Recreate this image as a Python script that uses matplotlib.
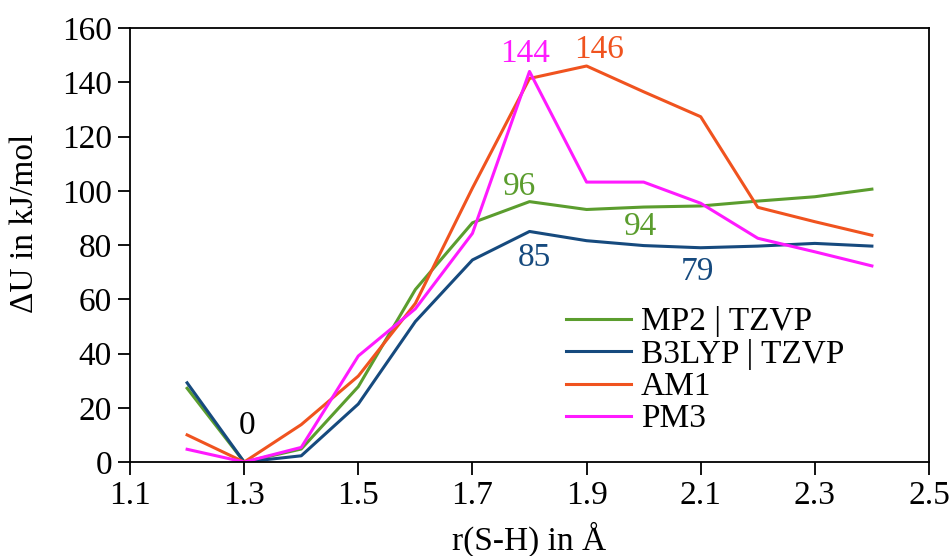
import matplotlib as mpl
mpl.use('Agg')
import matplotlib.pyplot as plt

# S-H bond length scan
r_sh = [1.2, 1.3, 1.4, 1.5, 1.6, 1.7, 1.8, 1.9, 2.0, 2.1, 2.2, 2.3, 2.4]

# energies relative to minimum, kJ/mol
mp2_tzvp = [27.2, 0.0, 4.8, 27.8, 63.6, 88.2, 96.0, 93.1, 94.0, 94.4, 96.2, 97.8, 100.6]
b3lyp_tzvp = [29.2, 0.0, 2.3, 21.4, 51.8, 74.5, 85.0, 81.6, 79.8, 79.0, 79.6, 80.6, 79.6]
am1 = [10.0, 0.0, 13.8, 31.7, 58.5, 101.0, 141.4, 146.0, 136.5, 127.3, 93.9, 88.6, 83.6]
pm3 = [4.7, 0.0, 5.4, 39.1, 56.5, 84.3, 144.0, 103.2, 103.2, 95.4, 82.5, 77.5, 72.3]

# value annotations: text position (x, y), text, colour key
label_x = [1.305, 1.782, 1.808, 1.792, 1.922, 1.994, 2.095]
label_y = [13.3, 101.4, 75.2, 150.5, 152.0, 86.6, 70.0]
label_txt = ["0", "96", "85", "144", "146", "94", "79"]
label_key = ["k", "mp2", "b3lyp", "pm3", "am1", "mp2", "b3lyp"]

colors = {
    "mp2": "#5b9d2e",
    "b3lyp": "#164a7e",
    "am1": "#f0531f",
    "pm3": "#ff1aff",
    "k": "black",
}

fontsize = 24
plt.rcParams.update({
    "font.family": ["Liberation Serif", "DejaVu Serif"],
    "font.size": fontsize,
    "axes.linewidth": 1.3,
    "xtick.major.width": 1.3,
    "ytick.major.width": 1.3,
    "xtick.major.size": 9,
    "ytick.major.size": 9,
})

fig = plt.figure(figsize=(9.52, 5.56), dpi=100)
ax = fig.add_axes([0.1366, 0.169, 0.8392, 0.7806])

lw = 2.2
ax.plot(r_sh, mp2_tzvp, color=colors["mp2"], lw=lw, label="MP2 | TZVP")
ax.plot(r_sh, b3lyp_tzvp, color=colors["b3lyp"], lw=lw, label="B3LYP | TZVP")
ax.plot(r_sh, am1, color=colors["am1"], lw=lw, label="AM1")
ax.plot(r_sh, pm3, color=colors["pm3"], lw=lw, label="PM3")

for x, y, t, k in zip(label_x, label_y, label_txt, label_key):
    ax.text(x, y, t, color=colors[k], ha="center", va="center", fontsize=fontsize)

ax.set_xlim(1.1, 2.5)
ax.set_ylim(0, 160)
ax.set_xticks([1.1, 1.3, 1.5, 1.7, 1.9, 2.1, 2.3, 2.5])
ax.set_yticks(range(0, 161, 20))
ax.tick_params(direction="out", pad=4)

ax.set_xlabel("r(S-H) in Å")
ax.set_ylabel("ΔU in kJ/mol")
ax.xaxis.set_label_coords(0.5, -0.138)
ax.yaxis.set_label_coords(-0.113, 0.55)

ax.legend(loc="lower left", bbox_to_anchor=(0.516, 0.01), frameon=False,
          handlelength=1.95, handletextpad=0.3, labelspacing=0.05,
          borderpad=0.2, fontsize=fontsize)

fig.savefig("out.png", dpi=100)
